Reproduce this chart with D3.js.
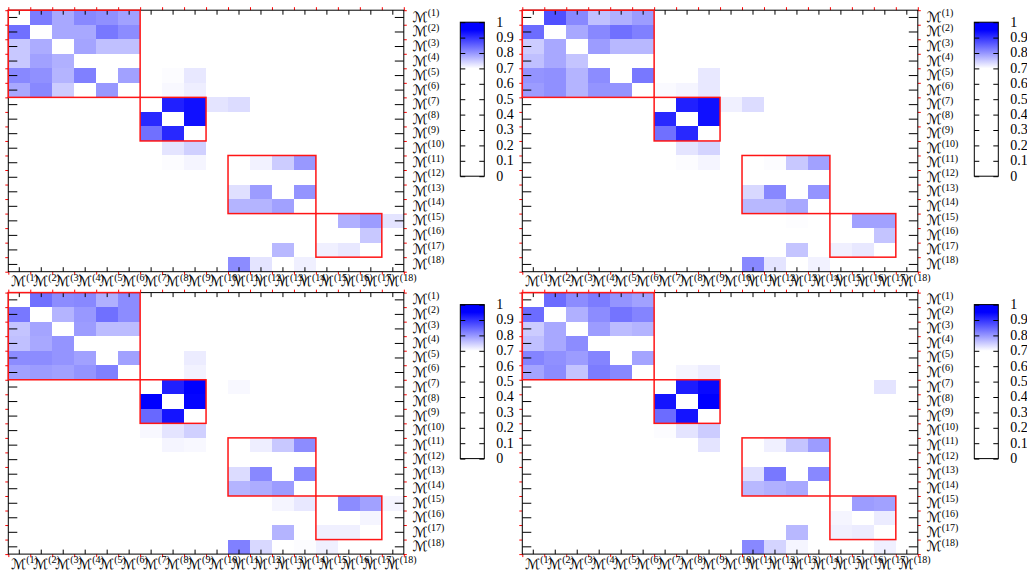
<!DOCTYPE html>
<html>
<head>
<meta charset="utf-8">
<script src="https://cdn.jsdelivr.net/npm/d3@7"></script>
<style>
  body { margin: 0; background: #fff; }
  text { font-family: "Liberation Serif", "DejaVu Serif", serif; fill: #000; }
</style>
</head>
<body>
<svg id="fig" width="1027" height="571"></svg>
<script>
// Model indices shown on both heatmap axes
const models = ["1","2","3","4","5","6","7","8","9","10","11","12","13","14","15","16","17","18"];

// Groups of models outlined in red: [first, last]
const blocks = [[1, 6], [7, 9], [11, 14], [15, 17]];

// Colour bar tick values
const colorTicks = [0, 0.1, 0.2, 0.3, 0.4, 0.5, 0.6, 0.7, 0.8, 0.9, 1];

// Similarity values [row, column, value]; all other cells are 0
const simA = [
  [1,2,0.826],[1,3,0.783],[1,4,0.814],[1,5,0.806],[1,6,0.790],
  [2,1,0.838],[2,3,0.783],[2,4,0.783],[2,5,0.830],[2,6,0.810],
  [3,1,0.752],[3,2,0.779],[3,4,0.787],[3,5,0.760],[3,6,0.760],
  [4,1,0.752],[4,2,0.790],[4,3,0.775],
  [5,1,0.814],[5,2,0.806],[5,3,0.771],[5,4,0.822],[5,6,0.790],[5,8,0.703],[5,9,0.722],
  [6,1,0.783],[6,2,0.814],[6,3,0.749],[6,5,0.798],[6,8,0.707],[6,9,0.716],
  [7,8,0.918],[7,9,0.934],[7,10,0.726],[7,11,0.733],
  [8,7,0.910],[8,9,0.934],
  [9,7,0.838],[9,8,0.910],
  [10,8,0.726],[10,9,0.745],
  [11,8,0.703],[11,9,0.710],[11,12,0.712],[11,13,0.749],[11,14,0.798],
  [13,11,0.730],[13,12,0.794],[13,14,0.802],
  [14,11,0.771],[14,12,0.771],[14,13,0.790],
  [15,16,0.775],[15,17,0.794],[15,18,0.726],
  [16,17,0.752],
  [17,13,0.768],[17,15,0.714],[17,16,0.722],
  [18,11,0.810],[18,12,0.726],[18,14,0.714]
];

const simB = [
  [1,2,0.870],[1,3,0.814],[1,4,0.760],[1,5,0.775],[1,6,0.794],
  [2,1,0.842],[2,3,0.783],[2,4,0.814],[2,5,0.838],[2,6,0.822],
  [3,1,0.749],[3,2,0.783],[3,4,0.794],[3,5,0.768],[3,6,0.768],
  [4,1,0.760],[4,2,0.783],[4,3,0.756],
  [5,1,0.802],[5,2,0.806],[5,3,0.771],[5,4,0.810],[5,6,0.830],[5,9,0.722],
  [6,1,0.794],[6,2,0.806],[6,3,0.771],[6,4,0.802],[6,5,0.802],[6,7,0.705],[6,8,0.710],[6,9,0.722],
  [7,8,0.918],[7,9,0.934],[7,10,0.714],[7,11,0.733],
  [8,7,0.910],[8,9,0.934],
  [9,7,0.838],[9,8,0.910],
  [10,8,0.726],[10,9,0.741],
  [11,8,0.703],[11,9,0.710],[11,12,0.703],[11,13,0.752],[11,14,0.790],
  [13,11,0.737],[13,12,0.814],[13,14,0.802],
  [14,11,0.768],[14,12,0.768],[14,13,0.783],
  [15,13,0.702],[15,16,0.790],[15,17,0.790],
  [16,17,0.756],
  [17,13,0.756],[17,15,0.714],[17,16,0.722],
  [18,11,0.814],[18,12,0.726],[18,14,0.712]
];

const simC = [
  [1,2,0.838],[1,3,0.810],[1,4,0.814],[1,5,0.775],[1,6,0.810],
  [2,1,0.830],[2,3,0.771],[2,4,0.798],[2,5,0.838],[2,6,0.810],
  [3,1,0.756],[3,2,0.787],[3,4,0.794],[3,5,0.764],[3,6,0.764],
  [4,1,0.760],[4,2,0.783],[4,3,0.802],
  [5,1,0.810],[5,2,0.810],[5,3,0.802],[5,4,0.790],[5,6,0.790],[5,9,0.718],
  [6,1,0.790],[6,2,0.794],[6,3,0.790],[6,4,0.802],[6,5,0.822],[6,9,0.712],
  [7,8,0.918],[7,9,0.950],[7,11,0.707],
  [8,7,0.950],[8,9,0.946],
  [9,7,0.846],[9,8,0.930],
  [10,7,0.707],[10,8,0.726],[10,9,0.745],
  [11,8,0.710],[11,9,0.707],[11,12,0.716],[11,13,0.752],[11,14,0.810],
  [13,11,0.733],[13,12,0.814],[13,14,0.814],
  [14,11,0.771],[14,12,0.779],[14,13,0.794],
  [15,13,0.710],[15,14,0.722],[15,16,0.810],[15,17,0.790],[15,18,0.710],
  [16,17,0.710],
  [17,13,0.771],[17,15,0.714],[17,16,0.714],
  [18,11,0.822],[18,12,0.737],[18,14,0.703],[18,15,0.714]
];

const simD = [
  [1,2,0.842],[1,3,0.810],[1,4,0.826],[1,5,0.802],[1,6,0.790],
  [2,1,0.842],[2,3,0.775],[2,4,0.810],[2,5,0.834],[2,6,0.818],
  [3,1,0.749],[3,2,0.783],[3,4,0.794],[3,5,0.764],[3,6,0.771],
  [4,1,0.760],[4,2,0.783],[4,3,0.810],
  [5,1,0.818],[5,2,0.806],[5,3,0.794],[5,4,0.818],[5,6,0.787],
  [6,1,0.787],[6,2,0.810],[6,3,0.756],[6,4,0.826],[6,5,0.814],[6,8,0.710],[6,9,0.718],
  [7,8,0.922],[7,9,0.942],[7,17,0.726],
  [8,7,0.930],[8,9,0.950],
  [9,7,0.842],[9,8,0.930],
  [10,7,0.703],[10,8,0.726],[10,9,0.749],
  [11,9,0.726],[11,12,0.714],[11,13,0.756],[11,14,0.794],
  [13,11,0.730],[13,12,0.830],[13,14,0.814],
  [14,11,0.768],[14,12,0.775],[14,13,0.783],
  [15,16,0.794],[15,17,0.790],
  [16,15,0.710],[16,17,0.718],
  [17,13,0.768],[17,15,0.714],[17,16,0.718],
  [18,11,0.814],[18,12,0.741],[18,13,0.710],[18,17,0.714]
];

// White up to 0.7, then ramps into pure blue
const cmapDomain = [0, 0.7, 0.8, 0.9, 0.95, 1];
const cmapRange = ["#ffffff", "#ffffff", "rgb(150,150,255)", "rgb(50,50,255)", "#0000ff", "#0000ff"];
const color = d3.scaleLinear().domain(cmapDomain).range(cmapRange).clamp(true);

const svg = d3.select("#fig");

// Gradient for the colour bar (bottom = 0, top = 1)
const grad = svg.append("defs").append("linearGradient")
  .attr("id", "cbar").attr("x1", 0).attr("y1", 1).attr("x2", 0).attr("y2", 0);
grad.selectAll("stop").data(cmapDomain).join("stop")
  .attr("offset", d => d)
  .attr("stop-color", d => color(d));

const panelW = 395.5, panelH = 261.5;
const panels = [
  { data: simA, x: 8.3,   y: 10.2 },
  { data: simB, x: 522.3, y: 10.2 },
  { data: simC, x: 8.3,   y: 292.6 },
  { data: simD, x: 522.3, y: 292.6 }
];

// Script M with a parenthesised superscript index
function modelLabel(sel, k) {
  sel.append("tspan").style("font-size", "14px")
    .style("font-family", "'DejaVu Sans', sans-serif").text("\u2133");
  sel.append("tspan").style("font-size", "10px").attr("dy", -5.5).text("(" + k + ")");
}

function drawPanel(p) {
  const g = svg.append("g").attr("transform", `translate(${p.x},${p.y})`);
  const x = d3.scaleBand().domain(models).range([0, panelW]);
  const y = d3.scaleBand().domain(models).range([0, panelH]);
  const xe = d3.scaleLinear().domain([0, models.length]).range([0, panelW]);
  const ye = d3.scaleLinear().domain([0, models.length]).range([0, panelH]);

  // cells
  g.append("g").selectAll("rect").data(p.data.filter(d => d[2] > 0.7)).join("rect")
    .attr("x", d => x(models[d[1] - 1]))
    .attr("y", d => y(models[d[0] - 1]))
    .attr("width", x.bandwidth())
    .attr("height", y.bandwidth())
    .attr("fill", d => color(d[2]))
    .attr("shape-rendering", "crispEdges");

  // red boundary ticks (outside) and black centre ticks (inside)
  const edgeTicks = d3.range(models.length + 1);
  const styleAxis = (ax, stroke) => ax.call(s => s.select(".domain").remove())
    .call(s => s.selectAll("line").attr("stroke", stroke).attr("stroke-width", 1));

  g.append("g").call(d3.axisTop(xe).tickValues(edgeTicks).tickSize(3).tickFormat(""))
    .call(s => styleAxis(s, "#ff0000"));
  g.append("g").attr("transform", `translate(0,${panelH})`)
    .call(d3.axisBottom(xe).tickValues(edgeTicks).tickSize(3).tickFormat(""))
    .call(s => styleAxis(s, "#ff0000"));
  g.append("g").call(d3.axisLeft(ye).tickValues(edgeTicks).tickSize(3).tickFormat(""))
    .call(s => styleAxis(s, "#ff0000"));
  g.append("g").attr("transform", `translate(${panelW},0)`)
    .call(d3.axisRight(ye).tickValues(edgeTicks).tickSize(3).tickFormat(""))
    .call(s => styleAxis(s, "#ff0000"));

  g.append("g").call(d3.axisTop(x).tickSize(-4.5).tickFormat(""))
    .call(s => styleAxis(s, "#000"));
  g.append("g").attr("transform", `translate(0,${panelH})`)
    .call(d3.axisBottom(x).tickSize(-4.5).tickFormat(""))
    .call(s => styleAxis(s, "#000"));
  g.append("g").call(d3.axisLeft(y).tickSize(-9).tickFormat(""))
    .call(s => styleAxis(s, "#000"));
  g.append("g").attr("transform", `translate(${panelW},0)`)
    .call(d3.axisRight(y).tickSize(-9).tickFormat(""))
    .call(s => styleAxis(s, "#000"));

  // frame
  g.append("rect").attr("width", panelW).attr("height", panelH)
    .attr("fill", "none").attr("stroke", "#000").attr("stroke-width", 1);

  // block outlines
  g.append("g").selectAll("rect").data(blocks).join("rect")
    .attr("x", d => x(models[d[0] - 1]))
    .attr("y", d => y(models[d[0] - 1]))
    .attr("width", d => x(models[d[1] - 1]) + x.bandwidth() - x(models[d[0] - 1]))
    .attr("height", d => y(models[d[1] - 1]) + y.bandwidth() - y(models[d[0] - 1]))
    .attr("fill", "none").attr("stroke", "#ff1515").attr("stroke-width", 1.5);

  // column labels
  g.append("g").selectAll("text").data(models).join("text")
    .attr("x", d => x(d) + 3)
    .attr("y", panelH + 14.5)
    .each(function(d) { modelLabel(d3.select(this), d); });

  // row labels
  g.append("g").selectAll("text").data(models).join("text")
    .attr("x", panelW + 9)
    .attr("y", d => y(d) + y.bandwidth() / 2 + 4.5)
    .each(function(d) { modelLabel(d3.select(this), d); });

  // colour bar
  const cbX = 452, cbW = 24;
  const cy = d3.scaleLinear().domain([0, 1]).range([166, 12]);
  const cb = g.append("g").attr("transform", `translate(${cbX},0)`);
  cb.append("rect").attr("x", 0).attr("y", cy(1)).attr("width", cbW).attr("height", cy(0) - cy(1))
    .attr("fill", "url(#cbar)");
  cb.append("g").call(d3.axisLeft(cy).tickValues(colorTicks).tickSize(-5).tickFormat(""))
    .call(s => styleAxis(s, "#000"));
  cb.append("g").attr("transform", `translate(${cbW},0)`)
    .call(d3.axisRight(cy).tickValues(colorTicks).tickSize(-5).tickFormat(""))
    .call(s => styleAxis(s, "#000"));
  cb.append("rect").attr("x", 0).attr("y", cy(1)).attr("width", cbW).attr("height", cy(0) - cy(1))
    .attr("fill", "none").attr("stroke", "#000").attr("stroke-width", 1);
  cb.append("g").selectAll("text").data(colorTicks).join("text")
    .attr("x", cbW + 12)
    .attr("y", d => cy(d) + 4.5)
    .style("font-size", "14px")
    .text(d => d3.format("~g")(d));
}

panels.forEach(drawPanel);
</script>
</body>
</html>
